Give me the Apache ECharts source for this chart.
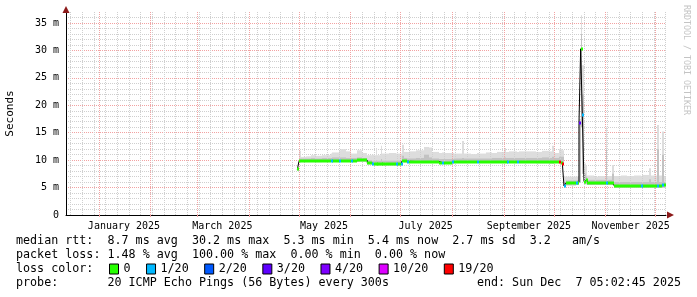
<!DOCTYPE html>
<html><head><meta charset="utf-8">
<script src="https://cdn.jsdelivr.net/npm/echarts@6/dist/echarts.min.js"></script>
<style>html,body{margin:0;padding:0;background:#fff}#c{width:697px;height:297px}</style>
</head><body><div id="c"></div>
<script>
// ---- data (values in milliseconds) ----
const dates = ['2025-04-30','2025-05-01','2025-05-02','2025-05-05','2025-05-08','2025-05-11','2025-05-15','2025-05-20','2025-05-21','2025-05-25',
 '2025-05-26','2025-05-29','2025-06-01','2025-06-02','2025-06-05','2025-06-08','2025-06-11','2025-06-14','2025-06-15','2025-06-16',
 '2025-06-17','2025-06-19','2025-06-20','2025-06-24','2025-06-28','2025-06-29','2025-07-01','2025-07-02','2025-07-03','2025-07-05',
 '2025-07-06','2025-07-10','2025-07-15','2025-07-18','2025-07-20','2025-07-24','2025-07-26','2025-07-27','2025-08-01','2025-08-02',
 '2025-08-07','2025-08-08','2025-08-12','2025-08-16','2025-08-17','2025-08-21','2025-08-25','2025-08-28','2025-09-01','2025-09-02',
 '2025-09-03','2025-09-04','2025-09-09','2025-09-10','2025-09-16','2025-09-20','2025-09-24','2025-09-28','2025-09-30','2025-10-01',
 '2025-10-04','2025-10-05','2025-10-06','2025-10-07','2025-10-08','2025-10-14','2025-10-15','2025-10-16','2025-10-17','2025-10-18',
 '2025-10-19','2025-10-20','2025-10-21','2025-10-25','2025-10-28','2025-11-01','2025-11-02','2025-11-05','2025-11-06','2025-11-10',
 '2025-11-14','2025-11-18','2025-11-22','2025-11-23','2025-11-27','2025-11-28','2025-12-02','2025-12-03','2025-12-05','2025-12-06'];
const medianMs = [8.3,9.8,9.9,9.9,9.9,9.85,9.9,9.9,9.9,9.9,
 9.9,9.9,9.9,9.9,9.95,9.95,9.45,9.3,9.25,9.25,
 9.25,9.25,9.25,9.25,9.25,9.25,9.25,9.9,9.8,9.75,
 9.75,9.75,9.75,9.75,9.75,9.55,9.55,9.55,9.6,9.7,
 9.7,9.7,9.7,9.7,9.7,9.7,9.7,9.75,9.75,9.75,
 9.75,9.75,9.75,9.75,9.7,9.65,9.65,9.6,9.6,9.7,
 9.6,9.5,9.3,5.3,5.8,5.85,5.9,16.7,30.3,18.2,
 6.1,6.4,5.9,5.9,5.9,5.9,5.9,5.9,5.35,5.35,
 5.35,5.35,5.35,5.35,5.35,5.35,5.35,5.35,5.4,5.4];
const lossIdx = [0,0,0,0,0,0,0,1,0,1,
 0,0,1,0,0,0,0,1,0,0,
 0,0,0,0,1,0,1,0,0,1,
 0,0,0,0,0,0,1,0,1,0,
 0,0,0,1,0,0,0,0,0,0,
 1,0,1,0,0,0,0,0,0,0,
 6,0,6,1,0,1,0,3,0,1,
 0,0,0,0,0,1,0,0,0,0,
 0,0,1,0,0,0,1,0,1,0];
const smokeLoMs = [8.1,9.6,9.7,9.7,9.7,9.65,9.7,9.7,9.7,9.7,
 9.7,9.7,9.7,9.7,9.75,9.75,9.25,9.1,9.05,9.05,
 9.05,9.05,9.05,9.05,9.05,9.05,9.05,9.7,9.6,9.55,
 9.55,9.55,9.55,9.55,9.55,9.35,9.35,9.35,9.4,9.5,
 9.5,9.5,9.5,9.5,9.5,9.5,9.5,9.55,9.55,9.55,
 9.55,9.55,9.55,9.55,9.5,9.45,9.45,9.4,9.4,9.5,
 9.4,9.3,9.1,5.1,5.4,5.45,5.5,6.0,16.0,7.5,
 5.6,5.6,5.5,5.5,5.5,5.5,5.5,5.5,5.0,5.0,
 5.0,5.0,5.0,5.0,5.0,5.0,5.0,5.0,5.0,5.0];
const smokeDarkMs = [8.5,10.3,10.3,10.3,10.4,10.3,10.4,10.4,10.5,10.5,
 10.5,10.4,10.4,10.4,10.5,10.4,10.0,9.9,9.9,10.0,
 9.9,10.2,9.9,9.9,9.9,9.9,9.9,10.8,10.4,10.3,
 10.3,10.4,11.0,10.5,10.3,10.2,10.2,10.2,10.2,10.3,
 10.4,10.3,10.3,10.3,10.3,10.3,10.4,10.4,10.5,10.4,
 10.4,10.4,10.4,10.4,10.4,10.4,10.5,10.4,10.6,10.4,
 10.6,10.6,10.6,6.0,6.3,6.3,6.4,17.0,33.0,22.0,
 7.5,7.0,6.4,6.4,6.4,12.0,6.4,7.5,6.0,6.0,
 6.0,6.0,6.0,6.0,6.5,6.0,12.0,6.0,11.0,6.0];
const smokeHiMs = [8.7,11.7,10.6,10.7,10.9,10.8,10.9,11.2,11.4,11.8,
 12.0,11.6,11.2,11.2,11.8,11.3,10.9,11.0,10.9,12.2,
 10.9,12.6,11.2,11.3,11.2,11.2,11.2,12.8,11.5,11.5,
 11.6,11.8,12.4,12.3,11.5,11.3,11.4,11.3,11.3,11.2,
 13.5,11.2,11.1,11.3,11.2,11.4,11.3,11.5,12.2,11.5,
 11.5,11.6,11.5,11.6,11.6,11.5,11.7,11.6,12.6,11.3,
 12.0,12.0,11.8,7.0,7.0,7.0,7.0,17.5,36.4,27.3,
 9.4,9.0,7.2,7.0,7.1,16.1,7.1,9.1,7.1,7.2,
 7.1,7.2,7.1,7.3,8.5,7.2,16.4,7.2,15.2,7.0];

const lossNames = ['0','1/20','2/20','3/20','4/20','10/20','19/20'];
const lossColors = ['#26ff00','#00b8ff','#0059ff','#5e00ff','#7e00ff','#dd00ff','#ff0000'];

const monthStarts = ['2025-01-01','2025-02-01','2025-03-01','2025-04-01','2025-05-01','2025-06-01',
 '2025-07-01','2025-08-01','2025-09-01','2025-10-01','2025-11-01','2025-12-01'];
const labelDates = ['2025-01-16','2025-03-16','2025-05-16','2025-07-16','2025-09-16','2025-11-16'];
const labelTexts = ['January 2025','March 2025','May 2025','July 2025','September 2025','November 2025'];

const statLine1 = 'median rtt:  8.7 ms avg  30.2 ms max  5.3 ms min  5.4 ms now  2.7 ms sd  3.2   am/s';
const statLine2 = 'packet loss: 1.48 % avg  100.00 % max  0.00 % min  0.00 % now';
const statLine3 = 'loss color:';
const statLine4 = 'probe:       20 ICMP Echo Pings (56 Bytes) every 300s';
const endText = 'end: Sun Dec  7 05:02:45 2025';
const watermark = 'RRDTOOL / TOBI OETIKER';

// ---- build ----
const ts = s => Date.parse(s + 'T00:00:00Z');
const rangeStart = Date.UTC(2024, 11, 12, 5, 2, 45);
const rangeEnd = Date.UTC(2025, 11, 7, 5, 2, 45);
const n = dates.length;
const tStart = dates.map(ts);
const tEnd = tStart.map((t, i) => i + 1 < n ? tStart[i + 1] : rangeEnd);

const smokeData = tStart.map((t, i) => [t, tEnd[i], smokeLoMs[i], smokeDarkMs[i], smokeHiMs[i]]);
const stepData = tStart.map((t, i) => [t, medianMs[i]]).concat([[rangeEnd, medianMs[n - 1]]]);

const weekTs = [];
for (let t = Date.UTC(2024, 11, 15); t < rangeEnd; t += 7 * 86400000) weekTs.push(t);
const monthTs = monthStarts.map(ts);
const labelTs = labelDates.map(ts);

const FONT = '"DejaVu Sans Mono", monospace';
const GRID_RED = '#f2a2a2';
const GRID_GRAY = '#cfcfcf';

function smokeRender(params, api) {
  const x0 = Math.round(api.coord([api.value(0), 0])[0]);
  const x1 = Math.round(api.coord([api.value(1), 0])[0]);
  const yLo = api.coord([0, api.value(2)])[1];
  const yDk = api.coord([0, api.value(3)])[1];
  const yHi = api.coord([0, api.value(4)])[1];
  return { type: 'group', children: [
    { type: 'rect', shape: { x: x0, y: yHi, width: Math.max(1, x1 - x0), height: yLo - yHi }, style: { fill: '#dddddd' } },
    { type: 'rect', shape: { x: x0, y: yDk, width: Math.max(1, x1 - x0), height: yLo - yDk }, style: { fill: '#c2c2c2' } }
  ]};
}
function medianRender(color) {
  return function (params, api) {
    const x0 = Math.round(api.coord([api.value(0), 0])[0]);
    const x1 = Math.round(api.coord([api.value(1), 0])[0]);
    const y = api.coord([0, api.value(2)])[1];
    return { type: 'rect', shape: { x: x0, y: Math.round(y) - 1.5, width: Math.max(2, x1 - x0), height: 3 }, style: { fill: color } };
  };
}

const lossSeries = lossNames.map((name, k) => ({
  name, type: 'custom', z: 5, silent: true,
  itemStyle: { color: lossColors[k] },
  renderItem: medianRender(lossColors[k]),
  encode: { x: [0, 1], y: 2 },
  data: tStart.map((t, i) => [t, tEnd[i], medianMs[i], lossIdx[i]]).filter(d => d[3] === k).map(d => [d[0], d[1], d[2]])
}));

const chart = echarts.init(document.getElementById('c'), null, { renderer: 'canvas' });
chart.setOption({
  animation: false,
  backgroundColor: '#ffffff',
  grid: { left: 66, right: 31, top: 12, bottom: 82, containLabel: false, outerBoundsMode: 'none' },
  xAxis: {
    type: 'value', min: rangeStart, max: rangeEnd, scale: true,
    axisLine: { show: true, onZero: false, lineStyle: { color: '#000', width: 1 } },
    axisTick: { show: true, customValues: monthTs, length: 2, inside: false, lineStyle: { color: GRID_RED } },
    axisLabel: {
      customValues: labelTs, margin: 6, fontFamily: FONT, fontSize: 10, color: '#000',
      formatter: v => { const i = labelTs.findIndex(t => Math.abs(t - v) < 3600000); return i >= 0 ? labelTexts[i] : ''; }
    },
    splitLine: { show: false }
  },
  yAxis: {
    type: 'value', min: 0, max: 37, interval: 1,
    name: 'Seconds', nameLocation: 'middle', nameGap: 50, nameRotate: 90,
    nameTextStyle: { fontFamily: FONT, fontSize: 11, color: '#000' },
    axisLine: { show: true, lineStyle: { color: '#000', width: 1 } },
    axisTick: { show: false },
    axisLabel: { margin: 7, fontFamily: FONT, fontSize: 10, color: '#000', showMaxLabel: false,
      formatter: v => (v % 5 === 0 ? (v === 0 ? '0' : v + ' m') : '') },
    splitLine: { show: true, showMinLine: true, showMaxLine: false,
      lineStyle: { color: [GRID_RED, GRID_GRAY, GRID_GRAY, GRID_GRAY, GRID_GRAY], type: [1, 1], width: 1 } }
  },
  legend: {
    left: 109, top: 263, padding: 0, itemWidth: 9, itemHeight: 10, itemGap: 15.5,
    icon: 'rect', selectedMode: false,
    textStyle: { fontFamily: FONT, fontSize: 11.7, color: '#000' },
    data: lossNames.map((nm, i) => ({ name: nm, itemStyle: { color: lossColors[i], borderColor: '#000', borderWidth: 1 } }))
  },
  graphic: [
    { type: 'text', x: 16, y: 241, silent: true, style: { text: statLine1, font: '11.7px ' + FONT, fill: '#000', verticalAlign: 'middle' } },
    { type: 'text', x: 16, y: 255, silent: true, style: { text: statLine2, font: '11.7px ' + FONT, fill: '#000', verticalAlign: 'middle' } },
    { type: 'text', x: 16, y: 269, silent: true, style: { text: statLine3, font: '11.7px ' + FONT, fill: '#000', verticalAlign: 'middle' } },
    { type: 'text', x: 16, y: 283, silent: true, style: { text: statLine4, font: '11.7px ' + FONT, fill: '#000', verticalAlign: 'middle' } },
    { type: 'text', x: 681, y: 283, silent: true, style: { text: endText, font: '11.7px ' + FONT, fill: '#000', align: 'right', verticalAlign: 'middle' } },
    { type: 'text', x: 686, y: 5, rotation: -Math.PI / 2, silent: true, style: { text: watermark, font: '8.3px ' + FONT, fill: '#c4c4c4', align: 'left', verticalAlign: 'middle' } },
    { type: 'polygon', silent: true, z: 100, shape: { points: [[62.5, 13], [69.5, 13], [66, 6]] }, style: { fill: '#8c1a1a' } },
    { type: 'polygon', silent: true, z: 100, shape: { points: [[667, 211.5], [667, 218.5], [674, 215]] }, style: { fill: '#8c1a1a' } }
  ],
  series: [
    { name: 'weekgrid', type: 'line', data: [], z: 1, silent: true,
      markLine: { silent: true, symbol: ['none', 'none'], label: { show: false }, animation: false,
        lineStyle: { color: GRID_GRAY, type: [1, 1], width: 1 }, data: weekTs.map(t => ({ xAxis: t })) } },
    { name: 'monthgrid', type: 'line', data: [], z: 1, silent: true,
      markLine: { silent: true, symbol: ['none', 'none'], label: { show: false }, animation: false,
        lineStyle: { color: GRID_RED, type: [1, 1], width: 1 }, data: monthTs.map(t => ({ xAxis: t })) } },
    { name: 'smoke', type: 'custom', z: 2, silent: true, renderItem: smokeRender,
      encode: { x: [0, 1], y: [2, 4] }, data: smokeData },
    { name: 'median', type: 'line', step: 'end', z: 3, silent: true, showSymbol: false, symbol: 'none',
      lineStyle: { color: '#000', width: 1 }, data: stepData }
  ].concat(lossSeries)
});
</script></body></html>
